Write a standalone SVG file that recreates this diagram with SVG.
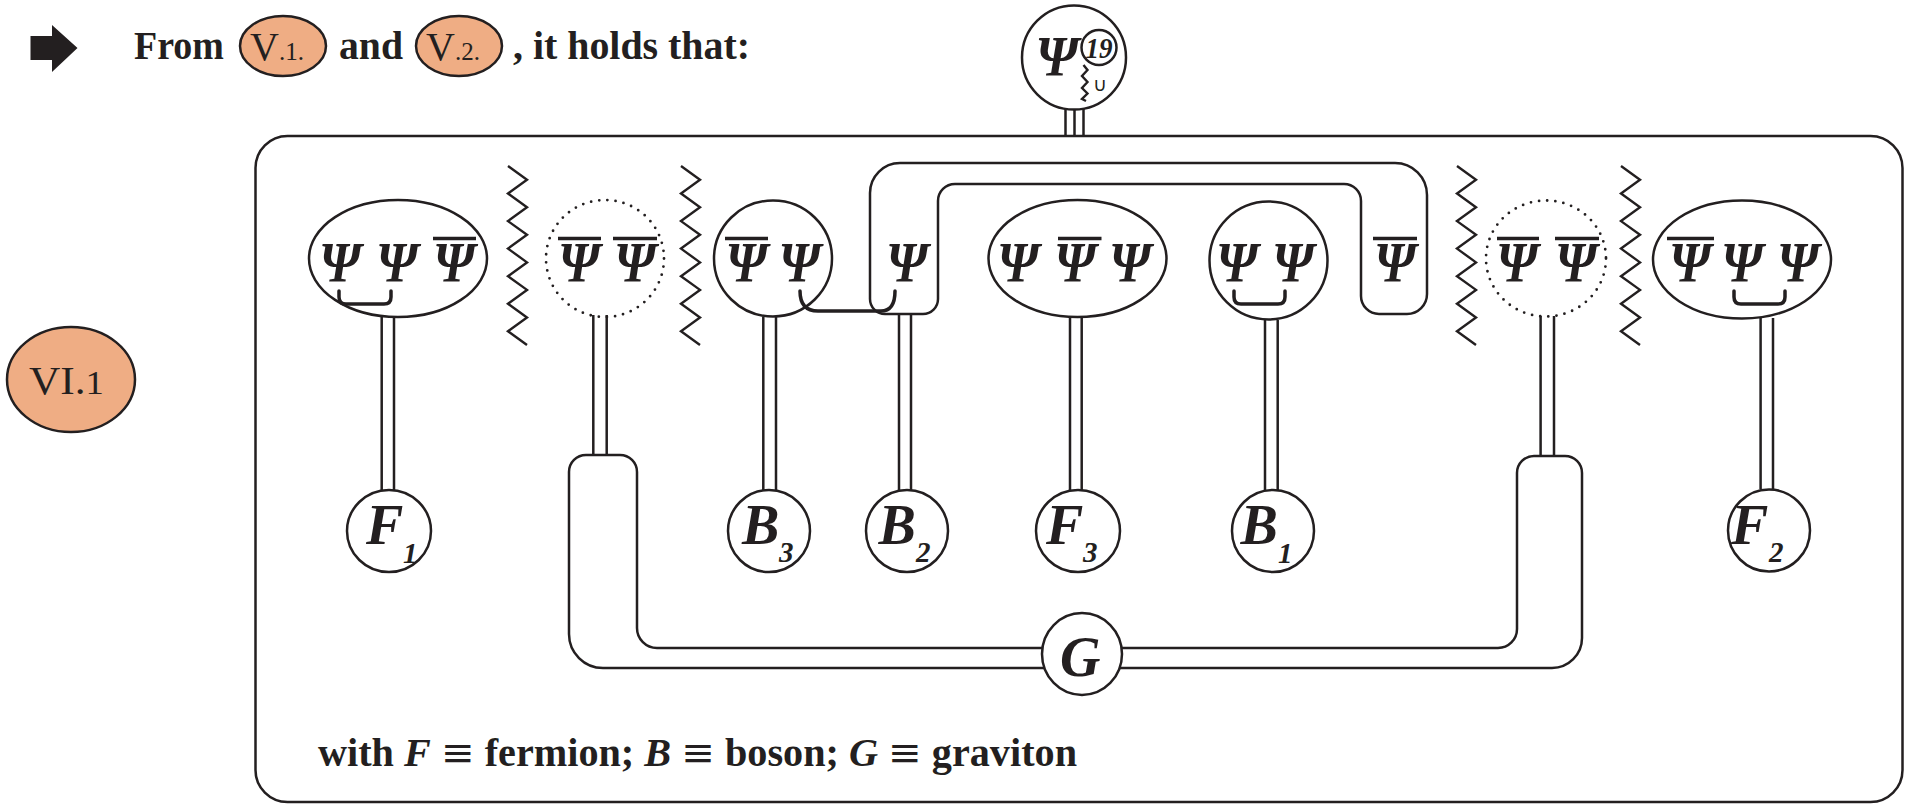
<svg xmlns="http://www.w3.org/2000/svg" width="1905" height="805" viewBox="0 0 1905 805">
<style>
  .ln{fill:none;stroke:#231f20;stroke-width:2.5}
  .nd{fill:#fff;stroke:#231f20;stroke-width:2.5}
  .dot{fill:none;stroke:#231f20;stroke-width:2.8;stroke-dasharray:0 8.2;stroke-linecap:round}
  .or{fill:#efad84;stroke:#231f20;stroke-width:2.5}
  .psi{font-family:"Liberation Serif",serif;font-weight:bold;font-style:italic;font-size:58px;fill:#231f20;text-anchor:middle}
  .bar{stroke:#231f20;stroke-width:3.5}
  .brk{fill:none;stroke:#231f20;stroke-width:3.5;stroke-linecap:round;stroke-linejoin:round}
  .zz{fill:none;stroke:#231f20;stroke-width:2.4}
  .lbl{font-family:"Liberation Serif",serif;font-weight:bold;font-style:italic;font-size:56px;fill:#231f20}
  .sub{font-family:"Liberation Serif",serif;font-weight:bold;font-style:italic;font-size:29px;fill:#231f20}
  .hd{font-family:"Liberation Serif",serif;font-weight:bold;font-size:39px;fill:#231f20}
  .rm{font-family:"Liberation Serif",serif;font-size:40px;fill:#231f20}
  .eq{font-family:"DejaVu Serif",serif;font-weight:normal;font-style:normal}
</style>
<defs>
  <polyline id="zig" class="zz" points="0,166 19,179.8 0,193.5 19,207.3 0,221.1 19,234.8 0,248.6 19,262.4 0,276.2 19,289.9 0,303.7 19,317.5 0,331.2 19,345"/>
</defs>

<!-- heading -->
<g id="heading">
  <polygon points="30.5,36 52,36 52,25 77.5,48 52,72 52,60 30.5,60" fill="#231f20"/>
  <text class="hd" x="134" y="59" textLength="90" lengthAdjust="spacingAndGlyphs">From</text>
  <ellipse class="or" cx="283" cy="46" rx="43" ry="30"/>
  <text class="rm" x="250" y="60">V<tspan font-size="25">.1.</tspan></text>
  <text class="hd" x="339" y="59" textLength="64" lengthAdjust="spacingAndGlyphs">and</text>
  <ellipse class="or" cx="459" cy="46" rx="43" ry="30"/>
  <text class="rm" x="426" y="60">V<tspan font-size="25">.2.</tspan></text>
  <text class="hd" x="513" y="59" textLength="237" lengthAdjust="spacingAndGlyphs">, it holds that:</text>
</g>

<g id="tag-VI1">
  <ellipse class="or" cx="71" cy="379.5" rx="64" ry="52.5"/>
  <text class="rm" x="29" y="394" font-size="55" textLength="75" lengthAdjust="spacingAndGlyphs">VI.<tspan font-size="34">1</tspan></text>
</g>

<!-- frame -->
<rect id="frame" class="ln" x="255.5" y="136" width="1647" height="666" rx="32"/>

<!-- connectors -->
<g id="connectors" class="ln">
  <!-- triple link of the top node -->
  <path d="M1065.5,109V136M1074.5,109V136M1083.5,109V136"/>
  <!-- double links -->
  <path d="M381.7,317V490M394,317V490"/>
  <path d="M593.3,315V455M606.7,315V455"/>
  <path d="M763.3,317V490M776,317V490"/>
  <path d="M899,314V490M911,314V490"/>
  <path d="M1070,317V490M1081.7,317V490"/>
  <path d="M1265,320V490M1277.7,320V490"/>
  <path d="M1540.6,316V456M1554,316V456"/>
  <path d="M1760.6,318V489M1773,318V489"/>
  <!-- arch loop around the free Psi and Psi-bar -->
  <path d="M870,193A30,30 0 0 1 900,163H1395A32,32 0 0 1 1427,195V294A20,20 0 0 1 1407,314H1379A18,18 0 0 1 1361,296V201A17,17 0 0 0 1344,184H955A17,17 0 0 0 938,201V299A15,15 0 0 1 923,314H885A15,15 0 0 1 870,299Z"/>
  <!-- graviton band -->
  <path d="M657,648H1498A19,19 0 0 0 1517,629V473A17,17 0 0 1 1534,456H1565A17,17 0 0 1 1582,473V638A30,30 0 0 1 1552,668H603A34,34 0 0 1 569,634V472A17,17 0 0 1 586,455H620A17,17 0 0 1 637,472V628A20,20 0 0 0 657,648Z"/>
</g>

<!-- separators -->
<g id="separators">
  <use href="#zig" x="508"/>
  <use href="#zig" x="681"/>
  <use href="#zig" x="1457"/>
  <use href="#zig" x="1621"/>
</g>

<!-- top node -->
<g id="node-psi19">
  <circle class="nd" cx="1074" cy="57.5" r="52"/>
  <text class="psi" x="1057" y="76" textLength="43" lengthAdjust="spacingAndGlyphs">Ψ</text>
  <circle class="ln" cx="1099" cy="47.5" r="17.5" stroke-width="2"/>
  <text x="1099" y="58" font-family="Liberation Serif, serif" font-style="italic" font-weight="bold" font-size="29" text-anchor="middle" fill="#231f20" textLength="27" lengthAdjust="spacingAndGlyphs">19</text>
  <polyline class="zz" stroke-width="2" points="1083.5,65 1087.5,70 1082,76 1087.5,82 1082,88 1087.5,93.5 1082,99 1086,101"/>
  <text x="1100" y="91" font-family="DejaVu Sans, sans-serif" font-size="19" text-anchor="middle" fill="#231f20">∪</text>
</g>

<!-- composite states -->
<g id="state-1">
  <ellipse class="nd" cx="398" cy="258.5" rx="89" ry="58.5"/>
  <text class="psi" x="340" y="282" textLength="42" lengthAdjust="spacingAndGlyphs">Ψ</text>
  <text class="psi" x="397" y="282" textLength="42" lengthAdjust="spacingAndGlyphs">Ψ</text>
  <text class="psi" x="454" y="282" textLength="42" lengthAdjust="spacingAndGlyphs">Ψ</text>
  <line class="bar" x1="433" y1="238.5" x2="476" y2="238.5"/>
  <path class="brk" d="M339,291V297Q339,304 346,304H384Q391,304 391,297V291"/>
</g>

<g id="state-2">
  <ellipse class="dot" cx="605" cy="258.5" rx="59" ry="58.5"/>
  <text class="psi" x="579" y="282" textLength="42" lengthAdjust="spacingAndGlyphs">Ψ</text>
  <text class="psi" x="635" y="282" textLength="42" lengthAdjust="spacingAndGlyphs">Ψ</text>
  <line class="bar" x1="558" y1="238.5" x2="601" y2="238.5"/>
  <line class="bar" x1="613" y1="238.5" x2="657" y2="238.5"/>
</g>

<g id="state-3">
  <ellipse class="nd" cx="773" cy="258.5" rx="59" ry="58"/>
  <text class="psi" x="746.5" y="282" textLength="42" lengthAdjust="spacingAndGlyphs">Ψ</text>
  <text class="psi" x="799.5" y="282" textLength="42" lengthAdjust="spacingAndGlyphs">Ψ</text>
  <line class="bar" x1="725" y1="238.5" x2="768" y2="238.5"/>
</g>

<g id="free-psi">
  <text class="psi" x="907" y="282" textLength="42" lengthAdjust="spacingAndGlyphs">Ψ</text>
  <path class="brk" d="M800,291Q800,311 818,311H881Q895,311 895,291"/>
</g>

<g id="state-4">
  <ellipse class="nd" cx="1077.5" cy="258.5" rx="89" ry="58.5"/>
  <text class="psi" x="1018" y="282" textLength="42" lengthAdjust="spacingAndGlyphs">Ψ</text>
  <text class="psi" x="1075" y="282" textLength="42" lengthAdjust="spacingAndGlyphs">Ψ</text>
  <text class="psi" x="1130" y="282" textLength="42" lengthAdjust="spacingAndGlyphs">Ψ</text>
  <line class="bar" x1="1058" y1="238.5" x2="1101.5" y2="238.5"/>
</g>

<g id="state-5">
  <ellipse class="nd" cx="1268.5" cy="260.5" rx="59" ry="59"/>
  <text class="psi" x="1237" y="282" textLength="42" lengthAdjust="spacingAndGlyphs">Ψ</text>
  <text class="psi" x="1293" y="282" textLength="42" lengthAdjust="spacingAndGlyphs">Ψ</text>
  <path class="brk" d="M1234,291V297Q1234,304 1241,304H1278Q1285,304 1285,297V291"/>
</g>

<g id="free-psibar">
  <text class="psi" x="1395" y="282" textLength="42" lengthAdjust="spacingAndGlyphs">Ψ</text>
  <line class="bar" x1="1373" y1="238.5" x2="1417" y2="238.5"/>
</g>

<g id="state-6">
  <ellipse class="dot" cx="1546" cy="258.5" rx="60" ry="58"/>
  <text class="psi" x="1517" y="282" textLength="42" lengthAdjust="spacingAndGlyphs">Ψ</text>
  <text class="psi" x="1576" y="282" textLength="42" lengthAdjust="spacingAndGlyphs">Ψ</text>
  <line class="bar" x1="1497" y1="238.5" x2="1539" y2="238.5"/>
  <line class="bar" x1="1555" y1="238.5" x2="1599" y2="238.5"/>
</g>

<g id="state-7">
  <ellipse class="nd" cx="1742" cy="259.5" rx="89" ry="59"/>
  <text class="psi" x="1690" y="282" textLength="42" lengthAdjust="spacingAndGlyphs">Ψ</text>
  <text class="psi" x="1742" y="282" textLength="42" lengthAdjust="spacingAndGlyphs">Ψ</text>
  <text class="psi" x="1798" y="282" textLength="42" lengthAdjust="spacingAndGlyphs">Ψ</text>
  <line class="bar" x1="1667" y1="238.5" x2="1714" y2="238.5"/>
  <path class="brk" d="M1734,291V297Q1734,304 1741,304H1778Q1785,304 1785,297V291"/>
</g>

<!-- particles -->
<g id="F1"><ellipse class="nd" cx="389" cy="531" rx="42" ry="41"/><text class="lbl" x="366" y="544">F</text><text class="sub" x="403" y="563">1</text></g>
<g id="B3"><circle class="nd" cx="769" cy="531" r="41"/><text class="lbl" x="742" y="544">B</text><text class="sub" x="779" y="562">3</text></g>
<g id="B2"><circle class="nd" cx="907" cy="531" r="41"/><text class="lbl" x="878.5" y="544">B</text><text class="sub" x="916" y="562">2</text></g>
<g id="F3"><ellipse class="nd" cx="1078" cy="531" rx="42" ry="41"/><text class="lbl" x="1046" y="544">F</text><text class="sub" x="1083" y="562">3</text></g>
<g id="B1"><circle class="nd" cx="1273" cy="531" r="41"/><text class="lbl" x="1240.5" y="544">B</text><text class="sub" x="1278" y="563">1</text></g>
<g id="F2"><circle class="nd" cx="1769" cy="530.5" r="41"/><text class="lbl" x="1731" y="544">F</text><text class="sub" x="1769" y="562">2</text></g>
<g id="G"><ellipse class="nd" cx="1082" cy="654" rx="40" ry="41"/><text class="lbl" x="1060" y="676">G</text></g>

<!-- legend -->
<text id="legend" class="hd" x="318" y="766" textLength="759" lengthAdjust="spacingAndGlyphs">with <tspan font-style="italic">F</tspan> <tspan class="eq">≡</tspan> fermion; <tspan font-style="italic">B</tspan> <tspan class="eq">≡</tspan> boson; <tspan font-style="italic">G</tspan> <tspan class="eq">≡</tspan> graviton</text>
</svg>
